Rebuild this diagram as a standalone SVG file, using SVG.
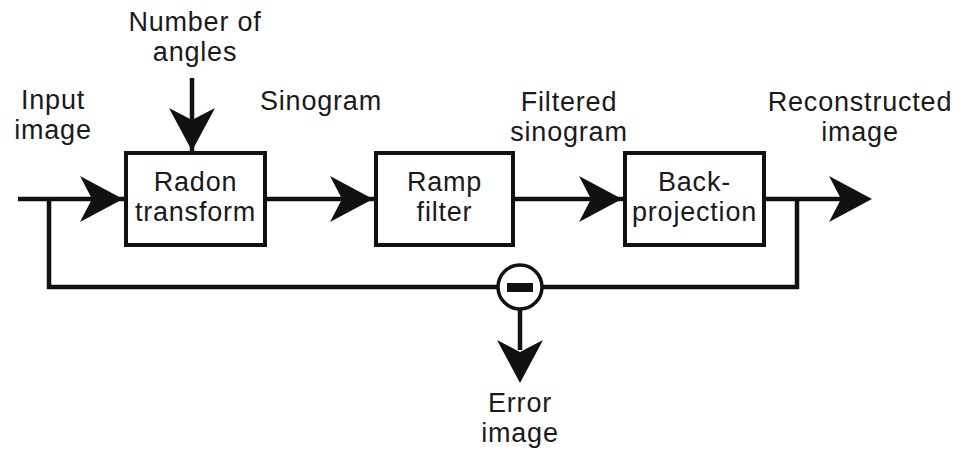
<svg xmlns="http://www.w3.org/2000/svg" width="964" height="451" viewBox="0 0 964 451">
<style>
.t{font-family:"Liberation Sans",Arial,sans-serif;font-size:27px;letter-spacing:0.8px;fill:#1a1a1a;text-anchor:middle}
.box{fill:#fff;stroke:#111;stroke-width:4}
.ln{fill:none;stroke:#111;stroke-width:4.5}
.ah{fill:#111}
</style>
<defs>
<path id="arr" d="M0,0 L-43,-23 L-31,0 L-43,23 Z"/>
</defs>
<rect width="964" height="451" fill="#fff"/>
<g id="connectors">
<path class="ln" d="M18,199 H126"/>
<use href="#arr" class="ah" transform="translate(123,199)"/>
<path class="ln" d="M192,78 V153"/>
<use href="#arr" class="ah" transform="translate(192,151) rotate(90)"/>
<path class="ln" d="M265,199 H376"/>
<use href="#arr" class="ah" transform="translate(373,199)"/>
<path class="ln" d="M513,199 H625"/>
<use href="#arr" class="ah" transform="translate(622,199)"/>
<path class="ln" d="M764,199 H845"/>
<use href="#arr" class="ah" transform="translate(872,199)"/>
<path class="ln" d="M49,199 V287 H498"/>
<path class="ln" d="M542,287 H797 V199"/>
<path class="ln" d="M520,309 V350"/>
<use href="#arr" class="ah" transform="translate(520,383) rotate(90)"/>
</g>
<g id="radon">
<rect class="box" x="126" y="153" width="139" height="92"/>
<text class="t" x="195.5" y="191">Radon</text>
<text class="t" x="195.5" y="221">transform</text>
</g>
<g id="ramp">
<rect class="box" x="376" y="153" width="137" height="92"/>
<text class="t" x="444.5" y="191">Ramp</text>
<text class="t" x="444.5" y="221">filter</text>
</g>
<g id="backprojection">
<rect class="box" x="625" y="153" width="139" height="92"/>
<text class="t" x="694.5" y="191">Back-</text>
<text class="t" x="694.5" y="221">projection</text>
</g>
<g id="subtract">
<circle cx="520" cy="287" r="22" fill="#fff" stroke="#111" stroke-width="3.5"/>
<rect x="507" y="283" width="26" height="9" fill="#111"/>
</g>
<g id="labels">
<text class="t" x="195" y="31">Number of</text>
<text class="t" x="195" y="61">angles</text>
<text class="t" x="53" y="109">Input</text>
<text class="t" x="53" y="139">image</text>
<text class="t" x="321" y="110">Sinogram</text>
<text class="t" x="569" y="111">Filtered</text>
<text class="t" x="569" y="141">sinogram</text>
<text class="t" x="860" y="111">Reconstructed</text>
<text class="t" x="860" y="141">image</text>
<text class="t" x="520" y="412">Error</text>
<text class="t" x="520" y="442">image</text>
</g>
</svg>
